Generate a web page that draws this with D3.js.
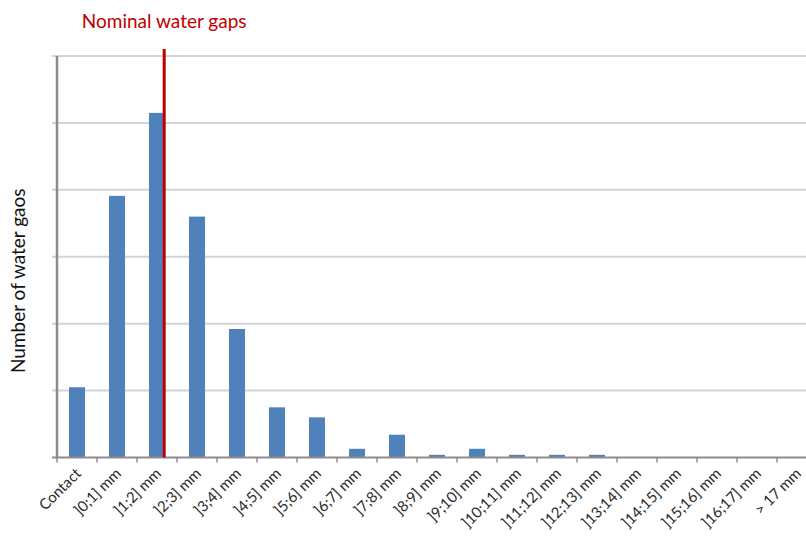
<!DOCTYPE html>
<html>
<head>
<meta charset="utf-8">
<script src="https://cdn.jsdelivr.net/npm/d3@7"></script>
<style>
  html, body { margin: 0; padding: 0; background: #fff; }
  svg { display: block; }
</style>
</head>
<body>
<svg id="chart" width="806" height="540"></svg>
<script>
(function () {
// ---- Data ----
const categories = ["Contact", "]0;1] mm", "]1;2] mm", "]2;3] mm", "]3;4] mm", "]4;5] mm",
  "]5;6] mm", "]6;7] mm", "]7;8] mm", "]8;9] mm", "]9;10] mm", "]10;11] mm", "]11;12] mm",
  "]12;13] mm", "]13;14] mm", "]14;15] mm", "]15;16] mm", "]16;17] mm", "> 17 mm"];
const counts = [10.5, 39.1, 51.5, 36, 19.2, 7.5, 6, 1.3, 3.4, 0.4, 1.3, 0.4, 0.4, 0.4, 0, 0, 0, 0, 0];
const yTicks = [0, 10, 20, 30, 40, 50, 60];
const nominalGapPosition = 2.68; // in category units (index of category, fractional)
const titleText = "Nominal water gaps";
const yTitle = "Number of water gaos";

// ---- Layout ----
const svg = d3.select("#chart");
const mLeft = 57, mRight = 817, mTop = 56, mBottom = 457.5;

const x = d3.scaleBand().domain(categories).range([mLeft, mRight])
  .paddingInner(0.6).paddingOuter(0.3);
const xIdx = d3.scaleLinear().domain([0, categories.length]).range([mLeft, mRight]);
const y = d3.scaleLinear().domain([0, 60]).range([mBottom, mTop]);

// gridlines
svg.append("g").selectAll("line").data(yTicks.filter(d => d > 0)).join("line")
  .attr("x1", mLeft - 5).attr("x2", 806)
  .attr("y1", d => y(d)).attr("y2", d => y(d))
  .attr("stroke", "#d4d4d4").attr("stroke-width", 2);

// bars
svg.append("g").selectAll("rect").data(counts).join("rect")
  .attr("x", (d, i) => x(categories[i]))
  .attr("width", x.bandwidth())
  .attr("y", d => y(d))
  .attr("height", d => y(0) - y(d))
  .attr("fill", "#4f81bd");

// x axis line
svg.append("line").attr("x1", mLeft - 5).attr("x2", 806).attr("y1", y(0)).attr("y2", y(0))
  .attr("stroke", "#8c8c8c").attr("stroke-width", 2);
// x ticks at category boundaries
svg.append("g").selectAll("line").data(d3.range(categories.length + 1)).join("line")
  .attr("x1", d => xIdx(d)).attr("x2", d => xIdx(d))
  .attr("y1", y(0)).attr("y2", y(0) + 5)
  .attr("stroke", "#8c8c8c").attr("stroke-width", 1.5);

// y axis line
svg.append("line").attr("x1", mLeft).attr("x2", mLeft).attr("y1", y(60)).attr("y2", y(0) + 1)
  .attr("stroke", "#8c8c8c").attr("stroke-width", 2.5);

// x labels
svg.append("g").selectAll("text").data(categories).join("text")
  .attr("transform", d => `translate(${x(d) + x.bandwidth() / 2 + 5},${y(0) + 17}) rotate(-45)`)
  .attr("text-anchor", "end")
  .attr("font-family", "Lato, 'Open Sans', sans-serif")
  .attr("font-size", 15)
  .attr("fill", "#2a2a2a")
  .text(d => d);

// nominal line
svg.append("line")
  .attr("x1", xIdx(nominalGapPosition)).attr("x2", xIdx(nominalGapPosition))
  .attr("y1", 49).attr("y2", y(0))
  .attr("stroke", "#c00000").attr("stroke-width", 3);

// title
svg.append("text")
  .attr("x", xIdx(nominalGapPosition)).attr("y", 28)
  .attr("text-anchor", "middle")
  .attr("font-family", "Lato, 'Open Sans', sans-serif")
  .attr("font-size", 19)
  .attr("fill", "#c00000")
  .text(titleText);

// y title
svg.append("text")
  .attr("transform", `translate(25,${(y(0) + y(60)) / 2 + 24}) rotate(-90)`)
  .attr("text-anchor", "middle")
  .attr("font-family", "Lato, 'Open Sans', sans-serif")
  .attr("font-size", 19)
  .attr("fill", "#111")
  .text(yTitle);
})();
</script>
</body>
</html>
